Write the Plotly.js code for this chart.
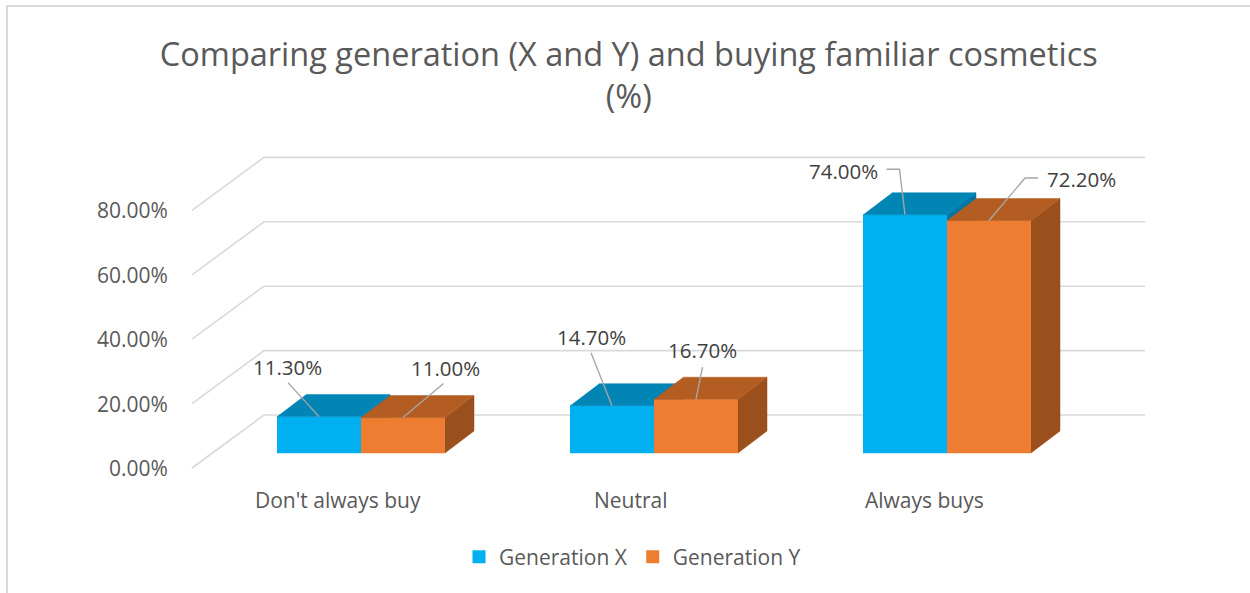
<!DOCTYPE html>
<html>
<head>
<meta charset="utf-8">
<script src="https://cdn.plot.ly/plotly-3.0.1.min.js"></script>
<style>html,body{margin:0;padding:0;background:#fff;}#chart{width:1250px;height:593px;}</style>
</head>
<body>
<div id="chart"></div>
<script>
// ---------- data ----------
const categories = ["Don't always buy", "Neutral", "Always buys"];
const seriesNames = ["Generation X", "Generation Y"];
const genX = [11.3, 14.7, 74.0];
const genY = [11.0, 16.7, 72.2];
const yTicks = [0, 20, 40, 60, 80];
const yTickLabels = ["0.00%", "20.00%", "40.00%", "60.00%", "80.00%"];
const titleText = "Comparing generation (X and Y) and buying familiar cosmetics<br>(%)";

// ---------- styling / geometry (pixels) ----------
const W = 1250, H = 593;
const PXX = 293, PXY = 3.22, CX0 = 361, FLOOR = 453;
const BW = 84 / PXX, DX = 29 / PXX, DY = 22 / PXY;
const WALL_DY = 38 / PXY, WALL_X0 = (264 - CX0) / PXX, WALL_X1 = (1145 - CX0) / PXX;
const SLANT_DX = 72 / PXX, SLANT_DY = 53 / PXY;
const colors = [
  {front: '#00B0F0', top: '#0085B5', side: '#0077A3'},
  {front: '#ED7D31', top: '#B45D23', side: '#9A4F1D'}
];
// label placement offsets (px, screen coords) relative to bar front-top centre
const labelOffsets = [
  [[-32, -50], [-21, -69], [-62, -44]],
  [[42, -50], [6.5, -49], [92, -42]]
];
// leader line points (px offsets) from label to bar
const leaderPts = [
  [[[-31, -34]], [[-21, -53]], [[-18.5, -45.5], [-5.5, -45.5]]],
  [[[40.5, -34]], [[6.5, -32]], [[49, -42.5], [36, -42.5]]]
];
const FONT = '"Open Sans", "Noto Sans", sans-serif';
const TXT = '#595959';

const traces = [];

// back wall gridlines
const gx = [], gy = [];
yTicks.forEach(g => {
  gx.push(WALL_X0 - SLANT_DX, WALL_X0, WALL_X1, null);
  gy.push(g + WALL_DY - SLANT_DY, g + WALL_DY, g + WALL_DY, null);
});
traces.push({x: gx, y: gy, mode: 'lines', line: {color: '#d9d9d9', width: 1.6},
  hoverinfo: 'skip', showlegend: false, type: 'scatter'});

// 3D bars
const seriesVals = [genX, genY];
seriesVals.forEach((vals, s) => {
  const off = s === 0 ? -BW : 0;
  const F = {x: [], y: []}, S = {x: [], y: []}, T = {x: [], y: []};
  vals.forEach((v, i) => {
    const x0 = i + off, x1 = x0 + BW;
    F.x.push(x0, x1, x1, x0, null); F.y.push(0, 0, v, v, null);
    S.x.push(x1, x1 + DX, x1 + DX, x1, null); S.y.push(0, DY, v + DY, v, null);
    T.x.push(x0, x1, x1 + DX, x0 + DX, null); T.y.push(v, v, v + DY, v + DY, null);
  });
  [[F, colors[s].front], [S, colors[s].side], [T, colors[s].top]].forEach(([p, c]) => {
    traces.push({x: p.x, y: p.y, mode: 'lines', fill: 'toself', fillcolor: c,
      line: {color: c, width: 0.5}, hoverinfo: 'skip', showlegend: false, type: 'scatter'});
  });
});

// leader lines
const lx = [], ly = [];
seriesVals.forEach((vals, s) => {
  const off = s === 0 ? -BW / 2 : BW / 2;
  vals.forEach((v, i) => {
    const cx = i + off;
    leaderPts[s][i].forEach(([dx, dy]) => { lx.push(cx + dx / PXX); ly.push(v - dy / PXY); });
    lx.push(cx, null); ly.push(v, null);
  });
});
traces.push({x: lx, y: ly, mode: 'lines', line: {color: '#a6a6a6', width: 1.4},
  hoverinfo: 'skip', showlegend: false, type: 'scatter'});

// legend entries
seriesNames.forEach((n, s) => {
  traces.push({x: [null], y: [null], name: n, mode: 'markers', type: 'scatter',
    marker: {symbol: 'square', size: 13, color: colors[s].front}});
});

const annotations = [];
// y tick labels
yTicks.forEach((g, k) => {
  annotations.push({x: WALL_X0 - SLANT_DX, y: g + WALL_DY - SLANT_DY, xref: 'x', yref: 'y',
    text: yTickLabels[k], showarrow: false, xanchor: 'right', yanchor: 'middle', xshift: -22,
    font: {family: FONT, size: 21, color: TXT}});
});
// category labels
categories.forEach((c, i) => {
  annotations.push({x: i, y: 0, xref: 'x', yref: 'y', text: c, showarrow: false,
    xanchor: 'center', yanchor: 'middle', xshift: -23, yshift: -47,
    font: {family: FONT, size: 21, color: TXT}});
});
// data labels
seriesVals.forEach((vals, s) => {
  const off = s === 0 ? -BW / 2 : BW / 2;
  vals.forEach((v, i) => {
    const [dx, dy] = labelOffsets[s][i];
    annotations.push({x: i + off, y: v, xref: 'x', yref: 'y', text: v.toFixed(2) + '%',
      showarrow: false, xanchor: 'center', yanchor: 'middle', xshift: dx, yshift: -dy,
      font: {family: FONT, size: 20.5, color: '#404040'}});
  });
});

const layout = {
  width: W, height: H,
  margin: {l: 0, r: 0, t: 0, b: 0, pad: 0, autoexpand: false},
  paper_bgcolor: '#fff', plot_bgcolor: '#fff',
  title: {text: titleText, x: 0.503, xanchor: 'center', y: 1 - 66 / H, yanchor: 'middle',
    font: {family: FONT, size: 32.5, color: TXT}},
  xaxis: {range: [-CX0 / PXX, (W - CX0) / PXX], visible: false, fixedrange: true},
  yaxis: {range: [-(H - FLOOR) / PXY, FLOOR / PXY], visible: false, fixedrange: true},
  showlegend: true,
  legend: {orientation: 'h', x: 0.506, xanchor: 'center', y: 1 - 557 / H, yanchor: 'middle',
    font: {family: FONT, size: 21, color: TXT}, bgcolor: 'rgba(0,0,0,0)', itemclick: false,
    itemwidth: 30, tracegroupgap: 0},
  shapes: [{type: 'rect', xref: 'paper', yref: 'paper', x0: 7 / W, x1: 1.01, y0: -0.01, y1: 1 - 6 / H,
    line: {color: '#d9d9d9', width: 2}, fillcolor: 'rgba(0,0,0,0)', layer: 'below'}],
  annotations: annotations,
  hovermode: false
};

Plotly.newPlot('chart', traces, layout, {displayModeBar: false, staticPlot: true});
</script>
</body>
</html>
